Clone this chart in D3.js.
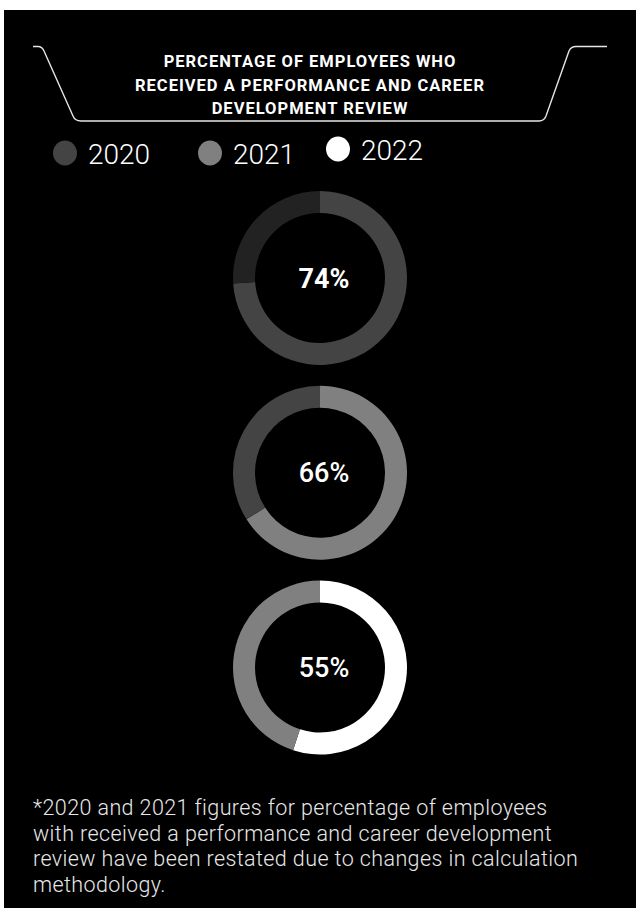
<!DOCTYPE html>
<html>
<head>
<meta charset="utf-8">
<script src="https://cdn.jsdelivr.net/npm/d3@7"></script>
<style>
  html, body { margin: 0; padding: 0; background: #fff; }
  svg { display: block; }
</style>
</head>
<body>
<div id="chart"></div>
<script>
// Share of employees who received a performance and career development review
const years = ["2020", "2021", "2022"];
const values = [74, 66, 55];
const valueLabels = ["74%", "66%", "55%"];
const yearColors = ["#444444", "#808080", "#ffffff"];
const baseColor = "#222222"; // remainder colour of the first ring
const titleLines = [
  "PERCENTAGE OF EMPLOYEES WHO",
  "RECEIVED A PERFORMANCE AND CAREER",
  "DEVELOPMENT REVIEW"
];
const noteLines = [
  "*2020 and 2021 figures for percentage of employees",
  "with received a performance and career development",
  "review have been restated due to changes in calculation",
  "methodology."
];

const W = 636, H = 908;
const svg = d3.select("#chart").append("svg")
  .attr("width", W).attr("height", H);

// dark panel
svg.append("rect").attr("x", 4).attr("y", 10)
  .attr("width", W - 4).attr("height", H - 10).attr("fill", "#000");

// title frame: top rule with a trapezoid hanging below it
const frame = d3.path();
frame.moveTo(33, 46.5);
frame.lineTo(38, 46.5);
frame.quadraticCurveTo(42, 46.5, 44, 51);
frame.lineTo(73, 116);
frame.quadraticCurveTo(75, 121, 81, 121);
frame.lineTo(539, 121);
frame.quadraticCurveTo(544, 121, 546, 116);
frame.lineTo(569, 51);
frame.quadraticCurveTo(571, 46.5, 576, 46.5);
frame.lineTo(607, 46.5);
svg.append("path").attr("d", frame.toString())
  .attr("fill", "none").attr("stroke", "#e6e6e6").attr("stroke-width", 1.4);

svg.append("g").selectAll("text").data(titleLines).join("text")
  .attr("x", 310).attr("y", (d, i) => 67 + i * 23.5)
  .attr("text-anchor", "middle")
  .attr("fill", "#fff")
  .style("font-family", "Roboto, sans-serif")
  .style("font-weight", 700)
  .style("font-size", "16.5px")
  .style("letter-spacing", "1px")
  .text(d => d);

// legend
const legendX = d3.scaleOrdinal().domain(years).range([65, 210, 338]);
const legendDy = d3.scaleOrdinal().domain(years).range([0, 0, -4]);
const legend = svg.append("g").selectAll("g").data(years).join("g")
  .attr("transform", d => `translate(${legendX(d)},${153 + legendDy(d)})`);
legend.append("ellipse").attr("rx", 12).attr("ry", 12.5)
  .attr("fill", (d, i) => yearColors[i]);
legend.append("text").attr("x", 23).attr("y", 11)
  .attr("fill", "#fff")
  .style("font-family", "Roboto, sans-serif")
  .style("font-weight", 300)
  .style("font-size", "28px")
  .text(d => d);

// one ring per year, stacked vertically
const ringY = d3.scalePoint().domain(years).range([278, 667.5]);
const pie = d3.pie().sort(null).value(d => d.v);
const arc = d3.arc().innerRadius(65).outerRadius(87);

years.forEach((yr, i) => {
  const rest = i === 0 ? baseColor : yearColors[i - 1];
  const parts = [
    { v: values[i], c: yearColors[i] },
    { v: 100 - values[i], c: rest }
  ];
  const g = svg.append("g").attr("transform", `translate(320,${ringY(yr)})`);
  g.selectAll("path").data(pie(parts)).join("path")
    .attr("d", arc)
    .attr("fill", d => d.data.c);
  g.append("text")
    .attr("x", 4).attr("y", 9.5)
    .attr("text-anchor", "middle")
    .attr("fill", "#fff")
    .style("font-family", "Roboto, sans-serif")
    .style("font-weight", i === 0 ? 700 : 500)
    .style("font-size", "27px")
    .text(valueLabels[i]);
});

// footnote
svg.append("g").selectAll("text").data(noteLines).join("text")
  .attr("x", 33).attr("y", (d, i) => 815 + i * 25.5)
  .attr("fill", "#e8e8e8")
  .style("font-family", "Roboto, sans-serif")
  .style("font-weight", 300)
  .style("font-size", "21.5px")
  .style("letter-spacing", "0.4px")
  .text(d => d);
</script>
</body>
</html>
